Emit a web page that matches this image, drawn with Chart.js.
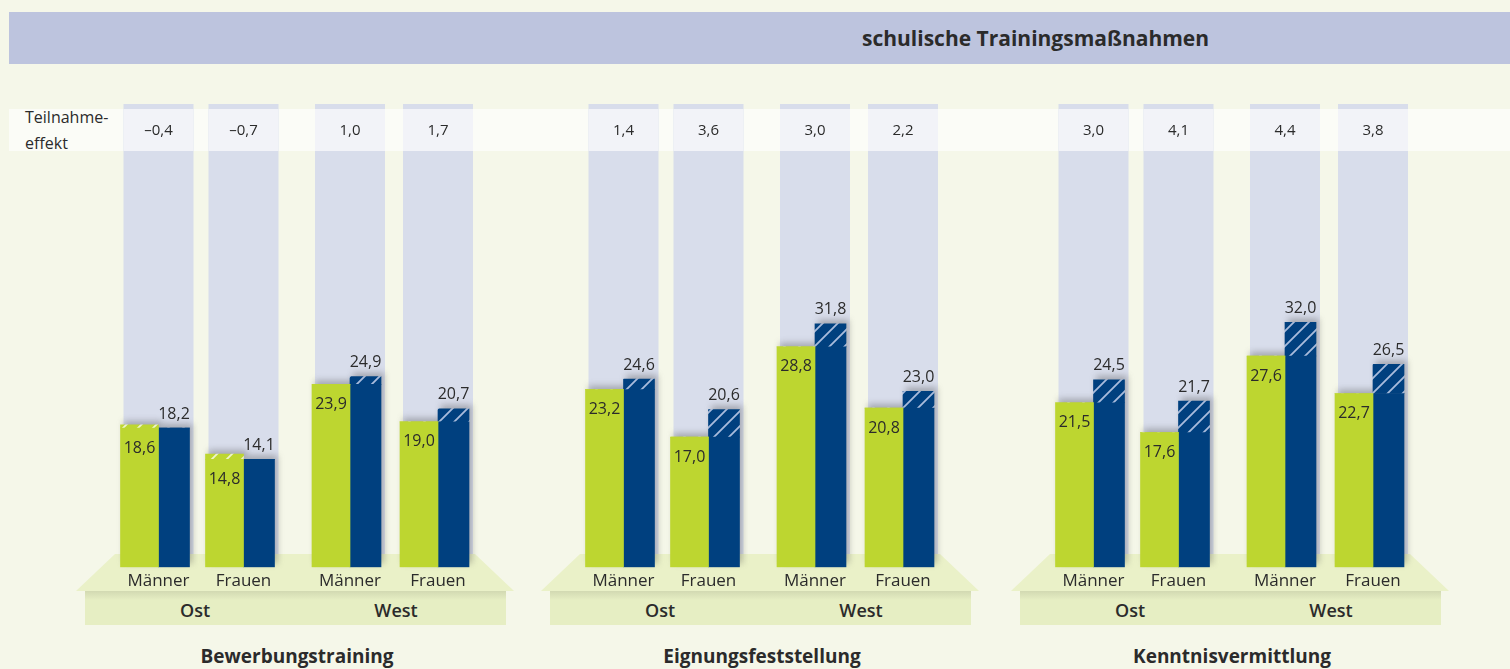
<!DOCTYPE html>
<html lang="de">
<head>
<meta charset="utf-8">
<script src="https://cdn.jsdelivr.net/npm/chart.js@4.4.1/dist/chart.umd.min.js"></script>
<style>
  body { margin: 0; width: 1510px; height: 669px; background: #f5f7e9; font-family: "Open Sans", sans-serif; color: #2b2b2b; overflow: hidden; position: relative; }
  .abs { position: absolute; }
  #kopf { left: 9px; top: 12px; width: 1501px; height: 52px; background: #bdc4de; }
  #titel { left: 862px; top: 12px; line-height: 52px; font-size: 21px; font-weight: 700; white-space: nowrap; }
  #band { left: 9px; top: 109px; width: 1501px; height: 42px; background: #fbfcf7; }
  #effektText { left: 25px; top: 104px; font-size: 16px; line-height: 26px; }
  .sockel { top: 554px; width: 438px; height: 37px; background: #eaf1c8; clip-path: polygon(39px 0, 399px 0, 100% 100%, 0 100%); }
  .fuss { top: 591px; width: 421px; height: 34px; background: linear-gradient(#d2d9b2, #e6eec3 9px); }
  .region { top: 592px; line-height: 36px; font-size: 18px; font-weight: 600; transform: translateX(-50%); }
  .gruppe { top: 643px; font-size: 19px; font-weight: 700; transform: translateX(-50%); white-space: nowrap; }
  canvas { position: absolute; top: 0; }
</style>
</head>
<body>
<div class="abs" id="kopf"></div>
<div class="abs" id="titel">schulische Trainingsmaßnahmen</div>
<div class="abs" id="band"></div>
<div class="abs" id="effektText">Teilnahme-<br>effekt</div>
<script>
// Reihenfolge je Maßnahme: Ost Männer, Ost Frauen, West Männer, West Frauen
const massnahmen = ['Bewerbungstraining', 'Eignungsfeststellung', 'Kenntnisvermittlung'];
const regionen = ['Ost', 'West'];
const geschlechter = ['Männer', 'Frauen'];
const vergleichsgruppe = [18.6, 14.8, 23.9, 19.0, 23.2, 17.0, 28.8, 20.8, 21.5, 17.6, 27.6, 22.7];
const teilnehmer = [18.2, 14.1, 24.9, 20.7, 24.6, 20.6, 31.8, 23.0, 24.5, 21.7, 32.0, 26.5];
const teilnahmeeffekt = [-0.4, -0.7, 1.0, 1.7, 1.4, 3.6, 3.0, 2.2, 3.0, 4.1, 4.4, 3.8];

const GRUEN = '#bdd630';
const BLAU = '#00407f';
const SCHRIFT = '"Open Sans", sans-serif';
const TEXTFARBE = '#2b2b2b';

// Layout
const gruppenX = [158, 623, 1093]; // Mitte der ersten Säule je Maßnahme
const westVersatz = 192;
const abstand = [85, 88];
const SAEULE_OBEN = 104, BAND_OBEN = 109, BAND_UNTEN = 151, SOCKEL_OBEN = 554;

const fmt = v => (v < 0 ? '–' : '') + Math.abs(v).toFixed(1).replace('.', ',');

function schraffur(grund, linie) {
  const s = 15;
  const c = document.createElement('canvas');
  c.width = s; c.height = s;
  const p = c.getContext('2d');
  p.fillStyle = grund;
  p.fillRect(0, 0, s, s);
  p.strokeStyle = linie;
  p.lineWidth = 1.8;
  p.beginPath();
  p.moveTo(-2, s + 2); p.lineTo(s + 2, -2);
  p.moveTo(-2, 2); p.lineTo(2, -2);
  p.moveTo(s - 2, s + 2); p.lineTo(s + 2, s - 2);
  p.stroke();
  return p.createPattern(c, 'repeat');
}
const schraffurGruen = schraffur(GRUEN, '#eef4cc');
const schraffurBlau = schraffur(BLAU, '#a9bcdc');

// Säulenhintergrund, Schatten und Beschriftungen
function saeulenPlugin(gr, bl, ef) {
  return {
    id: 'saeulen',
    beforeDatasetsDraw(chart) {
      const { ctx, scales: { x, y } } = chart;
      ctx.save();
      gr.forEach((_, k) => {
        const cx = x.getPixelForValue(k);
        ctx.fillStyle = '#d8ddeb';
        ctx.fillRect(cx - 35, SAEULE_OBEN, 70, SOCKEL_OBEN - SAEULE_OBEN);
        ctx.fillStyle = '#f2f3f8';
        ctx.fillRect(cx - 35, BAND_OBEN, 70, BAND_UNTEN - BAND_OBEN);
      });
      ctx.filter = 'blur(3px)';
      ctx.fillStyle = 'rgba(70,70,70,0.35)';
      const nullY = y.getPixelForValue(0);
      gr.forEach((_, k) => {
        const eg = chart.getDatasetMeta(0).data[k];
        const eb = chart.getDatasetMeta(2).data[k];
        const yg = y.getPixelForValue(gr[k]);
        const yb = y.getPixelForValue(bl[k]);
        ctx.fillRect(eg.x - eg.width / 2 + 3, yg - 4, eg.width, nullY - yg);
        ctx.fillRect(eb.x - eb.width / 2 + 3, yb - 4, eb.width, nullY - yb);
      });
      ctx.restore();
    },
    afterDatasetsDraw(chart) {
      const { ctx, scales: { x, y } } = chart;
      ctx.save();
      ctx.fillStyle = TEXTFARBE;
      ctx.textAlign = 'center';
      ctx.textBaseline = 'middle';
      gr.forEach((_, k) => {
        const eg = chart.getDatasetMeta(0).data[k];
        const eb = chart.getDatasetMeta(2).data[k];
        ctx.font = '16px ' + SCHRIFT;
        ctx.fillText(fmt(gr[k]), eg.x, y.getPixelForValue(Math.min(gr[k], bl[k])) + 20);
        ctx.fillText(fmt(bl[k]), eb.x, y.getPixelForValue(bl[k]) - 14);
        ctx.font = '15px ' + SCHRIFT;
        ctx.fillText(fmt(ef[k]), x.getPixelForValue(k), 131);
      });
      ctx.restore();
    }
  };
}

massnahmen.forEach((name, g) => {
  const c1 = gruppenX[g];
  const sockel = document.createElement('div');
  sockel.className = 'abs sockel';
  sockel.style.left = (c1 - 82) + 'px';
  document.body.appendChild(sockel);
  const fuss = document.createElement('div');
  fuss.className = 'abs fuss';
  fuss.style.left = (c1 - 73) + 'px';
  document.body.appendChild(fuss);
  regionen.forEach((reg, r) => {
    const d = document.createElement('div');
    d.className = 'abs region';
    d.textContent = reg;
    d.style.left = (c1 + 37 + r * 201) + 'px';
    document.body.appendChild(d);
  });
  const t = document.createElement('div');
  t.className = 'abs gruppe';
  t.textContent = name;
  t.style.left = (c1 + 139) + 'px';
  document.body.appendChild(t);
});

massnahmen.forEach((name, g) => {
  regionen.forEach((reg, r) => {
    const i0 = g * 4 + r * 2;
    const gr = vergleichsgruppe.slice(i0, i0 + 2);
    const bl = teilnehmer.slice(i0, i0 + 2);
    const ef = teilnahmeeffekt.slice(i0, i0 + 2);
    const sp = abstand[r];
    const cv = document.createElement('canvas');
    cv.width = 2 * sp;
    cv.height = 669;
    cv.style.left = Math.round(gruppenX[g] + r * westVersatz - sp / 2) + 'px';
    document.body.appendChild(cv);

    new Chart(cv, {
      type: 'bar',
      data: {
        labels: geschlechter,
        datasets: [
          { data: gr.map((v, k) => Math.min(v, bl[k])), backgroundColor: GRUEN, stack: 'v', barThickness: 38 },
          { data: gr.map((v, k) => Math.max(0, v - bl[k])), backgroundColor: schraffurGruen, stack: 'v', barThickness: 38 },
          { data: bl.map((v, k) => Math.min(v, gr[k])), backgroundColor: BLAU, stack: 't', barThickness: 31 },
          { data: bl.map((v, k) => Math.max(0, v - gr[k])), backgroundColor: schraffurBlau, stack: 't', barThickness: 31 }
        ]
      },
      options: {
        responsive: false,
        animation: false,
        devicePixelRatio: 1,
        layout: { padding: { top: 108, bottom: 73.3, left: 0, right: 0 } },
        plugins: { legend: { display: false }, tooltip: { enabled: false } },
        scales: {
          x: {
            stacked: true,
            grid: { display: false, drawTicks: false },
            border: { display: false },
            ticks: { color: TEXTFARBE, font: { family: SCHRIFT, size: 17 }, padding: 4, maxRotation: 0, autoSkip: false }
          },
          y: { stacked: true, display: false, min: 0, max: 60 }
        }
      },
      plugins: [saeulenPlugin(gr, bl, ef)]
    });
  });
});
</script>
</body>
</html>
